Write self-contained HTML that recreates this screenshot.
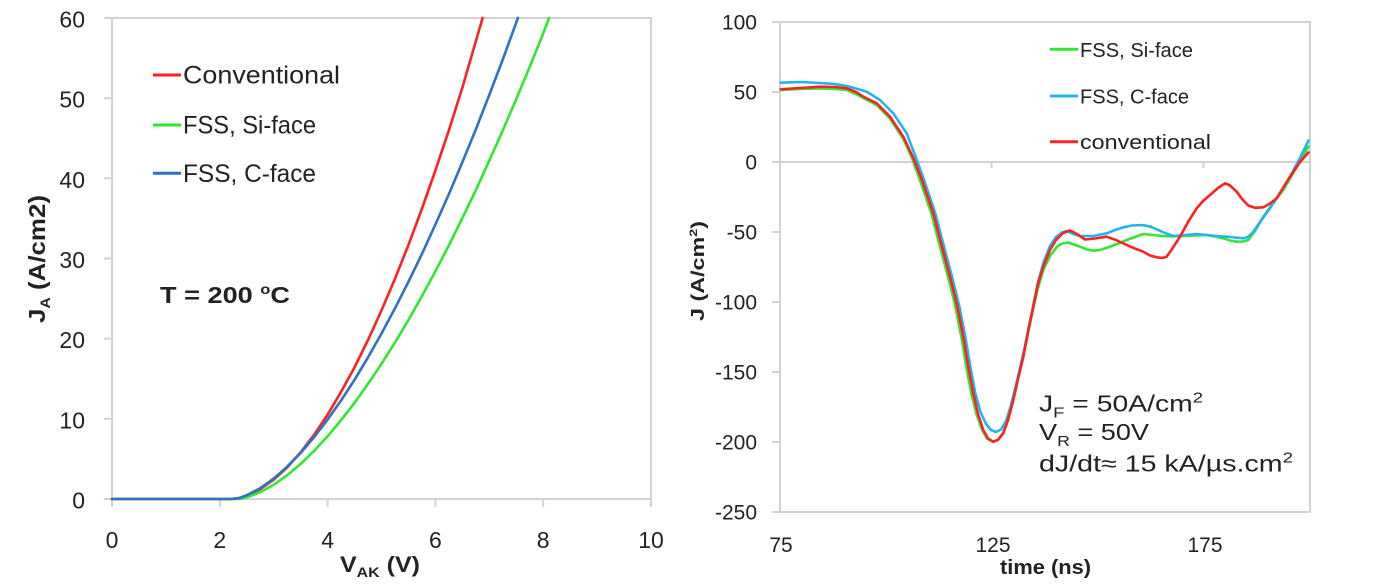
<!DOCTYPE html>
<html>
<head>
<meta charset="utf-8">
<style>
html,body{margin:0;padding:0;background:#fff;}
svg{display:block;}
text{font-family:"Liberation Sans",Arial,sans-serif;fill:#222;}
</style>
</head>
<body>
<svg width="1375" height="587" viewBox="0 0 1375 587" xmlns="http://www.w3.org/2000/svg">
<rect x="0" y="0" width="1375" height="587" fill="#fff"/>

<!-- ================= LEFT CHART ================= -->
<g stroke="#d2d2d2" stroke-width="2" fill="none">
  <rect x="112" y="18" width="539" height="481"/>
  <!-- y ticks -->
  <line x1="104" y1="499" x2="112" y2="499"/>
  <line x1="104" y1="418.8" x2="112" y2="418.8"/>
  <line x1="104" y1="338.7" x2="112" y2="338.7"/>
  <line x1="104" y1="258.5" x2="112" y2="258.5"/>
  <line x1="104" y1="178.3" x2="112" y2="178.3"/>
  <line x1="104" y1="98.2" x2="112" y2="98.2"/>
  <line x1="104" y1="18" x2="112" y2="18"/>
  <!-- x ticks -->
  <line x1="112" y1="499" x2="112" y2="507"/>
  <line x1="219.8" y1="499" x2="219.8" y2="507"/>
  <line x1="327.6" y1="499" x2="327.6" y2="507"/>
  <line x1="435.4" y1="499" x2="435.4" y2="507"/>
  <line x1="543.2" y1="499" x2="543.2" y2="507"/>
  <line x1="651" y1="499" x2="651" y2="507"/>
</g>

<g font-size="23" text-anchor="end" fill="#222">
  <text x="85" y="508.5">0</text>
  <text x="85" y="428.3">10</text>
  <text x="85" y="348.2">20</text>
  <text x="85" y="268">30</text>
  <text x="85" y="187.8">40</text>
  <text x="85" y="107.7">50</text>
  <text x="85" y="27.5">60</text>
</g>
<g font-size="23" text-anchor="middle">
  <text x="112" y="548">0</text>
  <text x="219.8" y="548">2</text>
  <text x="327.6" y="548">4</text>
  <text x="435.4" y="548">6</text>
  <text x="543.2" y="548">8</text>
  <text x="651" y="548">10</text>
</g>

<!-- x title -->
<text x="340" y="572" font-size="22" font-weight="bold" textLength="80" lengthAdjust="spacingAndGlyphs">V<tspan font-size="14" dy="5">AK</tspan><tspan dy="-5"> (V)</tspan></text>
<!-- y title -->
<text transform="translate(45,259) rotate(-90)" text-anchor="middle" font-size="23" font-weight="bold" textLength="128" lengthAdjust="spacingAndGlyphs">J<tspan font-size="14" dy="5">A</tspan><tspan dy="-5"> (A/cm2)</tspan></text>

<!-- T label -->
<text x="160" y="303" font-size="23" font-weight="bold" textLength="130" lengthAdjust="spacingAndGlyphs">T = 200 <tspan font-size="14" dy="-9">o</tspan><tspan dy="9">C</tspan></text>

<!-- legend -->
<g stroke-width="3">
  <line x1="153" y1="75" x2="181" y2="75" stroke="#ff2020"/>
  <line x1="153" y1="125" x2="181" y2="125" stroke="#33e633"/>
  <line x1="153" y1="173.3" x2="181" y2="173.3" stroke="#2e72c2"/>
</g>
<g font-size="25">
  <text x="183" y="83.5" textLength="157" lengthAdjust="spacingAndGlyphs">Conventional</text>
  <text x="183" y="133.5" textLength="133" lengthAdjust="spacingAndGlyphs">FSS, Si-face</text>
  <text x="183" y="182" textLength="133" lengthAdjust="spacingAndGlyphs">FSS, C-face</text>
</g>

<!-- curves -->
<g fill="none" stroke-width="2.6" stroke-linejoin="round" stroke-linecap="round">
  <polyline stroke="#ff2020" points="112,499 230.6,499 238.6,498.1 246.8,495.8 260.2,489.2 273.7,479.7 287.2,467.4 300.7,452.3 314.1,434.8 327.6,414.7 341.1,391.8 354.6,367.2 368,340 381.5,310.4 395,278.7 408.5,244.8 422,208.5 435.4,170.4 449,129.9 462.4,87.5 482.6,18"/>
  <polyline stroke="#33e633" points="112,499 236.7,499 241.8,498.6 246.8,497.3 260.2,492.3 273.7,484.7 287.2,475.3 300.7,463.9 314.1,450.9 327.6,436.3 341.1,420.1 354.6,402.8 368,383.9 381.5,363.8 395,342.4 408.5,319.9 422,296 435.4,271.2 449,245.1 462.4,218 476,189.8 489.3,160.6 502.8,130.3 516.3,99 529.8,66.6 543.2,33.4 549.1,18"/>
  <polyline stroke="#2e72c2" points="112,499 231.4,499 239,498.2 246.8,495.2 260.2,488.2 273.7,478.6 287.2,466.7 300.7,452.8 314.1,437.1 327.6,419.6 341.1,400.4 354.6,379.7 368,357.4 381.5,333.5 395,308.3 408.5,281.7 422,253.8 435.4,224.5 449,193.9 462.4,162.1 476,129 489.3,94.8 503.5,57.6 517.9,18"/>
</g>

<!-- ================= RIGHT CHART ================= -->
<g stroke="#d2d2d2" stroke-width="2" fill="none">
  <rect x="780" y="22" width="530" height="490"/>
  <line x1="780" y1="162" x2="1310" y2="162"/>
  <line x1="772" y1="22" x2="780" y2="22"/>
  <line x1="772" y1="92" x2="780" y2="92"/>
  <line x1="772" y1="162" x2="780" y2="162"/>
  <line x1="772" y1="232" x2="780" y2="232"/>
  <line x1="772" y1="302" x2="780" y2="302"/>
  <line x1="772" y1="372" x2="780" y2="372"/>
  <line x1="772" y1="442" x2="780" y2="442"/>
  <line x1="772" y1="512" x2="780" y2="512"/>
  <line x1="991.7" y1="162" x2="991.7" y2="168"/>
  <line x1="1203.4" y1="162" x2="1203.4" y2="168"/>
</g>

<g font-size="21" text-anchor="end">
  <text x="757" y="29.5">100</text>
  <text x="757" y="99.5">50</text>
  <text x="757" y="169.5">0</text>
  <text x="757" y="239.5">-50</text>
  <text x="757" y="309.5">-100</text>
  <text x="757" y="379.5">-150</text>
  <text x="757" y="449.5">-200</text>
  <text x="757" y="519.5">-250</text>
</g>
<g font-size="21" text-anchor="middle">
  <text x="781" y="552">75</text>
  <text x="993" y="552">125</text>
  <text x="1205" y="552">175</text>
</g>
<text x="1000" y="574" font-size="20" font-weight="bold" textLength="91" lengthAdjust="spacingAndGlyphs">time (ns)</text>
<text transform="translate(704,271) rotate(-90)" text-anchor="middle" font-size="18" font-weight="bold" textLength="100" lengthAdjust="spacingAndGlyphs">J (A/cm<tspan font-size="11" dy="-7">2</tspan><tspan dy="7">)</tspan></text>

<!-- legend -->
<g stroke-width="3">
  <line x1="1050" y1="49.3" x2="1078" y2="49.3" stroke="#33e633"/>
  <line x1="1050" y1="96" x2="1078" y2="96" stroke="#22b4ee"/>
  <line x1="1050" y1="141.7" x2="1078" y2="141.7" stroke="#ff2020"/>
</g>
<g font-size="20">
  <text x="1080" y="57" textLength="113" lengthAdjust="spacingAndGlyphs">FSS, Si-face</text>
  <text x="1080" y="103.5" textLength="109" lengthAdjust="spacingAndGlyphs">FSS, C-face</text>
  <text x="1080" y="149" textLength="131" lengthAdjust="spacingAndGlyphs">conventional</text>
</g>

<!-- annotation -->
<g font-size="23">
  <text x="1039" y="411.7" textLength="164" lengthAdjust="spacingAndGlyphs">J<tspan font-size="15" dy="6">F</tspan><tspan dy="-6"> = 50A/cm</tspan><tspan font-size="15" dy="-9">2</tspan></text>
  <text x="1039" y="440" textLength="110" lengthAdjust="spacingAndGlyphs">V<tspan font-size="15" dy="6">R</tspan><tspan dy="-6"> = 50V</tspan></text>
  <text x="1039" y="471.7" textLength="254" lengthAdjust="spacingAndGlyphs">dJ/dt≈ 15 kA/µs.cm<tspan font-size="15" dy="-9">2</tspan></text>
</g>

<!-- curves -->
<g fill="none" stroke-width="2.6" stroke-linejoin="round" stroke-linecap="round">
  <polyline stroke="#33e633" points="780.7,90 800,89 820,88.5 835,89 846.7,90 856,94 863.3,98 876.7,105 890,118.5 903.3,139 912,158 920,180 931.3,213.3 939,243 948,276.7 955,305 961.3,336.7 966,365 971.3,393.3 976.5,414 982,430 987,438.5 992.5,441.5 997.5,440 1003,433 1008,420 1013.3,400 1018,379 1023.3,356.7 1028,333 1033.3,308 1038,288 1043.3,270 1050,256 1056.7,247 1062,243.5 1068.3,242.5 1074,244.5 1080,246.7 1087,249.5 1093.3,250.7 1100,250 1110,246.7 1118,243.5 1126.7,240 1135,237 1143.3,234 1153,235 1163.3,236 1173,236.5 1183.3,236 1195,235.5 1206.7,235 1215,236.5 1223.3,238.3 1230,240.5 1236.7,241.7 1243,241.5 1248.3,240 1255,231 1263.3,216.7 1273,203 1283.3,190 1295,170 1308.5,146.5"/>
  <polyline stroke="#22b4ee" points="780.7,82.7 800,82 820,83 835,84 846.7,86 856,88.5 866.7,91.7 880,100 893.3,113.3 906.7,133.3 915.3,156 924,180 935.3,213.3 943,243 952,276.7 959,305 965.3,336.7 970,365 975.3,393.3 980.5,412 986,424 991,430 996,432 1001,429.5 1006,421 1010.5,407 1015,389 1020,368 1025,346 1028,331 1033.3,305 1038,282 1043.3,263 1050,246 1056,237 1062,232.5 1066.7,231 1073,234 1080,236 1093.3,236 1106.7,233.3 1115,230 1123.3,227.3 1132,225.5 1141.7,225 1150,226.5 1156.7,229.3 1165,233 1173.3,236 1185,235 1196.7,234 1206,235 1216.7,236 1230,237 1243.3,238.3 1248,237 1253.3,231.7 1260,222 1270,208.3 1280,193 1290,176.7 1300,158 1308.5,140.5"/>
  <polyline stroke="#ff2020" points="780.7,89.3 800,88 820,86.7 835,87 846.7,88.3 856,92 863.3,96.7 876.7,103.3 890,116.7 903.3,136.7 913.3,158 922,180 933.3,213.3 941,243 950,276.7 957,305 963.3,336.7 968,365 973.3,393.3 978,414 983.3,430 988,438.5 993.3,441.7 998,440 1003.3,433.3 1008,420 1013.3,400 1018,379 1023.3,356.7 1028,332 1033.3,306.7 1038,284 1043.3,266.7 1050,250 1056,240 1063,233 1070,230.5 1077,234 1085,239.5 1095,238.5 1106.7,236.7 1116,240 1126.7,245 1135,248.5 1143.3,251.7 1150,255.5 1156.7,257.3 1162,258 1166.7,256.7 1172,249 1180,236.7 1188,222 1196.7,208.3 1203,201 1210,195 1218,188 1225,183.3 1230,185.5 1236.7,191.7 1242,199 1248.3,205.5 1255,207.8 1263.3,207.3 1270,203.5 1276.7,198.3 1283,188 1290,176.7 1300,162 1308.5,152.5"/>
</g>
</svg>
</body>
</html>
